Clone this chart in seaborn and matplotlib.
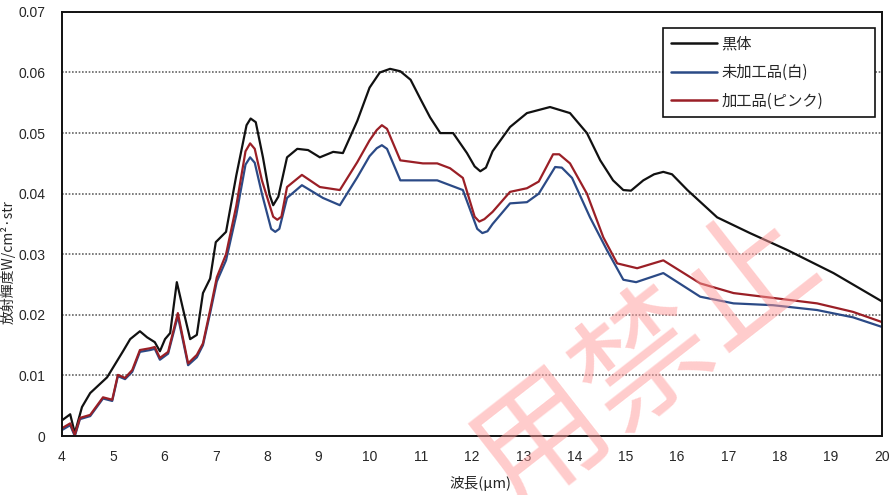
import pandas as pd
import matplotlib.pyplot as plt
import seaborn as sns

# 黒体
bk_x = [4.0, 4.16, 4.25, 4.39, 4.55, 4.88, 5.19, 5.33, 5.52, 5.66, 5.81, 5.91, 6.01, 6.11,
        6.24, 6.36, 6.5, 6.63, 6.75, 6.89, 7.0, 7.2, 7.4, 7.6, 7.68, 7.78, 7.92, 8.05, 8.12,
        8.22, 8.39, 8.59, 8.8, 9.03, 9.29, 9.48, 9.76, 10.0, 10.2, 10.4, 10.6, 10.8, 11.0,
        11.18, 11.38, 11.63, 11.9, 12.05, 12.16, 12.27, 12.4, 12.74, 13.07, 13.52, 13.91,
        14.24, 14.5, 14.75, 14.95, 15.1, 15.34, 15.55, 15.73, 15.9, 16.2, 16.78, 17.42, 18.15,
        19.05, 20.0]
bk_y = [0.0026, 0.0036, 0.0005, 0.0048, 0.0071, 0.0097, 0.014, 0.016, 0.0173, 0.0163, 0.0155,
        0.014, 0.016, 0.017, 0.0254, 0.021, 0.016, 0.0167, 0.0236, 0.026, 0.032, 0.0337,
        0.043, 0.0513, 0.0524, 0.0518, 0.046, 0.0398, 0.0381, 0.0395, 0.046, 0.0474, 0.0472,
        0.046, 0.0469, 0.0467, 0.052, 0.0575, 0.060, 0.0606, 0.0602, 0.0588, 0.0555, 0.0526,
        0.050, 0.050, 0.0467, 0.0445, 0.0437, 0.0443, 0.047, 0.051, 0.0533, 0.0543, 0.0533,
        0.050, 0.0455, 0.0422, 0.0406, 0.0405, 0.0422, 0.0432, 0.0436, 0.0432, 0.0406, 0.0361,
        0.0335, 0.0307, 0.0269, 0.0222]

# 加工品(ピンク)
rd_x = [4.0, 4.16, 4.25, 4.35, 4.55, 4.8, 4.98, 5.09, 5.23, 5.37, 5.52, 5.72, 5.81, 5.91,
        6.07, 6.26, 6.46, 6.63, 6.75, 6.89, 7.02, 7.2, 7.4, 7.58, 7.67, 7.76, 7.9, 8.12, 8.2,
        8.28, 8.39, 8.68, 9.03, 9.42, 9.76, 10.0, 10.14, 10.24, 10.34, 10.6, 11.04, 11.32,
        11.57, 11.82, 12.05, 12.14, 12.24, 12.4, 12.74, 13.07, 13.3, 13.58, 13.7, 13.91, 14.24,
        14.56, 14.83, 15.22, 15.73, 16.45, 17.1, 17.87, 18.73, 19.43, 20.0]
rd_y = [0.0013, 0.0021, 0.0002, 0.003, 0.0035, 0.0064, 0.006, 0.0101, 0.0096, 0.0109, 0.0142,
        0.0145, 0.0147, 0.0129, 0.0139, 0.0203, 0.012, 0.0134, 0.0153, 0.0208, 0.0262, 0.030,
        0.038, 0.0470, 0.0483, 0.0474, 0.0422, 0.0362, 0.0357, 0.0362, 0.0411, 0.0431, 0.0411,
        0.0406, 0.0452, 0.0488, 0.0505, 0.0513, 0.0507, 0.0455, 0.045, 0.045, 0.0442, 0.0426,
        0.0362, 0.0354, 0.0358, 0.037, 0.0403, 0.0409, 0.042, 0.0465, 0.0465, 0.045, 0.040,
        0.0328, 0.0285, 0.0277, 0.029, 0.0252, 0.0236, 0.0228, 0.0219, 0.0205, 0.0188]

# 未加工品(白)
bl_x = [4.0, 4.16, 4.25, 4.35, 4.55, 4.8, 4.98, 5.09, 5.23, 5.37, 5.52, 5.72, 5.81, 5.91,
        6.07, 6.26, 6.46, 6.63, 6.75, 6.89, 7.02, 7.2, 7.4, 7.58, 7.67, 7.76, 7.9, 8.08, 8.16,
        8.24, 8.39, 8.68, 9.09, 9.42, 9.76, 10.0, 10.14, 10.24, 10.34, 10.6, 11.04, 11.32,
        11.57, 11.82, 12.1, 12.2, 12.3, 12.4, 12.74, 13.07, 13.3, 13.62, 13.75, 13.95, 14.3,
        14.63, 14.95, 15.2, 15.73, 16.45, 17.1, 17.87, 18.73, 19.43, 20.0]
bl_y = [0.001, 0.0018, 0.0, 0.0028, 0.0033, 0.0062, 0.0058, 0.0099, 0.0094, 0.0106, 0.0139,
        0.0142, 0.0144, 0.0126, 0.0136, 0.0198, 0.0117, 0.013, 0.015, 0.0203, 0.0255, 0.029,
        0.0365, 0.0448, 0.046, 0.0451, 0.040, 0.0342, 0.0337, 0.0342, 0.0393, 0.0414, 0.0393,
        0.0381, 0.0427, 0.0462, 0.0475, 0.048, 0.0474, 0.0422, 0.0422, 0.0422, 0.0414, 0.0406,
        0.0342, 0.0335, 0.0338, 0.035, 0.0384, 0.0386, 0.040, 0.0444, 0.0443, 0.0426, 0.0361,
        0.0307, 0.0258, 0.0254, 0.0269, 0.023, 0.0219, 0.0216, 0.0208, 0.0196, 0.018]

labels = ['黒体', '未加工品(白)', '加工品(ピンク)']
colors = ['#111111', '#2b4a86', '#9a1f26']
x_ticks = list(range(4, 21))
y_ticks = [0, 0.01, 0.02, 0.03, 0.04, 0.05, 0.06, 0.07]
y_ticklabels = ['0', '0.01', '0.02', '0.03', '0.04', '0.05', '0.06', '0.07']

df = pd.concat([
    pd.DataFrame({'x': bk_x, 'y': bk_y, 'series': labels[0]}),
    pd.DataFrame({'x': bl_x, 'y': bl_y, 'series': labels[1]}),
    pd.DataFrame({'x': rd_x, 'y': rd_y, 'series': labels[2]}),
], ignore_index=True)

sns.set_style('white')
plt.rcParams['font.family'] = ['Noto Sans CJK JP', 'DejaVu Sans']

fig = plt.figure(figsize=(8.92, 4.95), dpi=100)
ax = fig.add_axes([0.0695, 0.119, 0.9195, 0.857])

sns.lineplot(data=df, x='x', y='y', hue='series', hue_order=labels,
             palette=dict(zip(labels, colors)), estimator=None, sort=False,
             linewidth=1.6, ax=ax)

ax.set_xlim(4, 20)
ax.set_ylim(0, 0.07)
ax.set_xticks(x_ticks)
ax.set_yticks(y_ticks)
ax.set_yticklabels(y_ticklabels)
ax.tick_params(length=0, labelsize=10)
ax.tick_params(axis='y', pad=12)
ax.tick_params(axis='x', pad=10)
for t in ax.get_xticklabels() + ax.get_yticklabels():
    t.set_family(['Liberation Sans', 'DejaVu Sans'])
ax.yaxis.grid(True, color='#666666', linestyle=(0, (1, 1)), linewidth=1.2)
for s in ax.spines.values():
    s.set_color('#111111')
    s.set_linewidth(1.4)

ax.set_xlabel('波長(μm)', fontsize=10.5)
ax.xaxis.set_label_coords(0.51, -0.095)
ax.set_ylabel('放射輝度W/cm²·str', fontsize=10)
ax.yaxis.set_label_coords(-0.057, 0.41)

leg = ax.legend(loc='upper left', bbox_to_anchor=(0.733, 0.762, 0.258, 0.2), mode='expand',
                fontsize=11, handlelength=3.0, handletextpad=0.3, labelspacing=0.75,
                borderpad=0.5, borderaxespad=0, fancybox=False, frameon=True)
leg.get_frame().set_edgecolor('#111111')
leg.get_frame().set_linewidth(1.2)
leg.get_frame().set_alpha(1)
for h in leg.get_lines():
    h.set_linewidth(1.8)

# watermark
fig.text(0.725, 0.27, '用禁止', fontsize=95, color='#ff9a9a', alpha=0.5,
         rotation=38, ha='center', va='center', zorder=10)

fig.savefig('out.png', dpi=100)
